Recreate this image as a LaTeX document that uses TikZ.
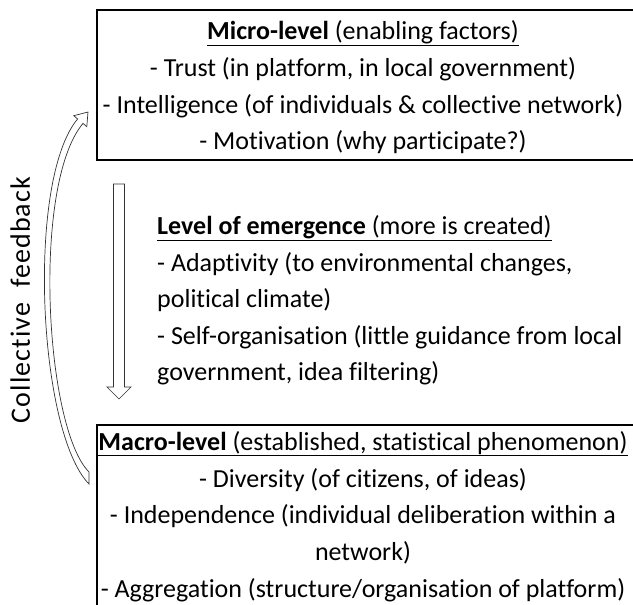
\documentclass[tikz,border=0pt]{standalone}
\usepackage{fontspec}
\setmainfont{Carlito}[Ligatures=NoCommon]
\newfontfamily\spacedfont{Carlito}[Ligatures=NoCommon, LetterSpace=4]
\begin{document}
\begin{tikzpicture}[x=1pt,y=-1pt,
  txt/.style={inner sep=0pt, anchor=base, font=\fontsize{26}{30}\selectfont},
  txtl/.style={txt, anchor=base west},
  boxline/.style={draw=black, line width=1.2pt},
  blockarrow/.style={draw=black!80, line width=0.7pt, fill=white, line join=miter}]
\useasboundingbox (0,0) rectangle (633,605);
\clip (0,0) rectangle (633,605);
% boxes
\draw[boxline] (97,10) rectangle (645,160);
\draw[boxline] (97,425) rectangle (645,640);
% micro level
\node[txt] (m1) at (363,39) {\underline{\textbf{Micro-level} (enabling factors)}};
\node[txt] (m2) at (363,76) {- Trust (in platform, in local government)};
\node[txt] (m3) at (363,113) {- Intelligence (of individuals \& collective network)};
\node[txt] (m4) at (363,149) {- Motivation (why participate?)};
% emergence
\node[txtl] (e1) at (157,234) {\underline{\textbf{Level of emergence} (more is created)}};
\node[txtl] (e2) at (157,271) {- Adaptivity (to environmental changes,};
\node[txtl] (e3) at (157,307) {political climate)};
\node[txtl] (e4) at (157,344) {- Self-organisation (little guidance from local};
\node[txtl] (e5) at (157,380) {government, idea filtering)};
% macro level
\node[txt] (M1) at (363,450) {\underline{\textbf{Macro-level} (established, statistical phenomenon)}};
\node[txt] (M2) at (363,487) {- Diversity (of citizens, of ideas)};
\node[txt] (M3) at (363,523) {- Independence (individual deliberation within a};
\node[txt] (M4) at (363,560) {network)};
\node[txt] (M5) at (363,597) {- Aggregation (structure/organisation of platform)};
% collective feedback label
\node[txt, rotate=90, font=\fontsize{28}{32}\spacedfont] (cf) at (30,300) {Collective\ \ feedback};
% down block arrow
\draw[blockarrow] (113.5,184) -- (124.5,184) -- (124.5,387) -- (131,387) -- (119,399)
  -- (107,387) -- (113.5,387) -- cycle;
% curved feedback arrow
\draw[blockarrow] (89,484) .. controls (38,432) and (26.2,180.3) .. (77.6,119.0)
  -- (73.8,115.7) -- (88,112) -- (86.8,126.7) -- (83.0,123.4)
  .. controls (31.6,184.7) and (45,428) .. (89,472) -- cycle;
\end{tikzpicture}
\end{document}
